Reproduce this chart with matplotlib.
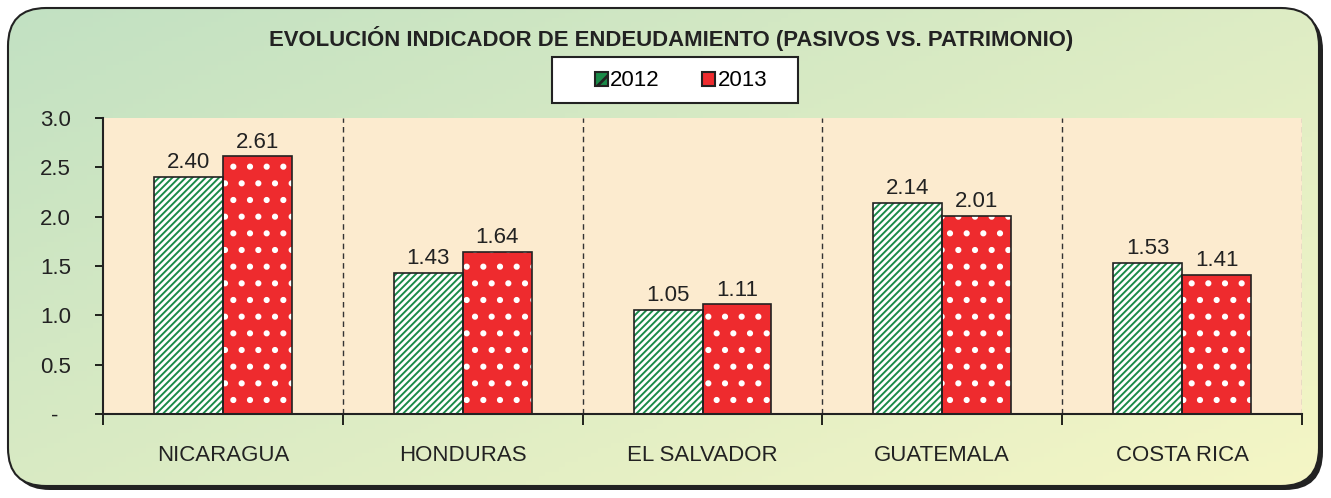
import matplotlib
matplotlib.use("Agg")
import matplotlib.pyplot as plt
import numpy as np
from matplotlib.patches import FancyBboxPatch, Rectangle

categories = ["NICARAGUA", "HONDURAS", "EL SALVADOR", "GUATEMALA", "COSTA RICA"]
series_names = ["2012", "2013"]
values_2012 = [2.40, 1.43, 1.05, 2.14, 1.53]
values_2013 = [2.61, 1.64, 1.11, 2.01, 1.41]
yticks = [0.0, 0.5, 1.0, 1.5, 2.0, 2.5, 3.0]
ytick_labels = ["-  ", "0.5", "1.0", "1.5", "2.0", "2.5", "3.0"]
title = "EVOLUCIÓN INDICADOR DE ENDEUDAMIENTO (PASIVOS VS. PATRIMONIO)"

plt.rcParams['font.family'] = ['Liberation Sans', 'DejaVu Sans']
plt.rcParams['hatch.linewidth'] = 2.0

W, H = 1331, 498
fig = plt.figure(figsize=(W / 100, H / 100), dpi=100)

# background axes with gradient inside rounded box
bg = fig.add_axes([0, 0, 1, 1])
bg.set_xlim(0, W)
bg.set_ylim(H, 0)
bg.axis("off")
shadow = FancyBboxPatch((12, 12), W - 20, H - 20, boxstyle="round,pad=0,rounding_size=38",
                        facecolor="#222222", edgecolor="none", zorder=0)
bg.add_patch(shadow)
box = FancyBboxPatch((8, 8), W - 20, H - 20, boxstyle="round,pad=0,rounding_size=38",
                     facecolor="none", edgecolor="#222222", linewidth=1.5, zorder=3)
xx, yy = np.meshgrid(np.linspace(0, 1, 200), np.linspace(0, 1, 100))
t = np.clip(0.55 * xx + 0.45 * yy, 0, 1)
c0 = np.array([0xc2, 0xe1, 0xc2]) / 255
c1 = np.array([0xf5, 0xf6, 0xc6]) / 255
img = c0[None, None, :] * (1 - t[..., None]) + c1[None, None, :] * t[..., None]
im = bg.imshow(img, extent=(8, W - 12, H - 12, 8), aspect="auto", zorder=1)
clip = FancyBboxPatch((8, 8), W - 20, H - 20, boxstyle="round,pad=0,rounding_size=38",
                      facecolor="none", edgecolor="none", transform=bg.transData)
bg.add_patch(clip)
im.set_clip_path(clip)
bg.add_patch(box)
# legend box
bg.add_patch(Rectangle((552, 57), 246, 46, facecolor="white", edgecolor="#222222",
                       linewidth=1.5, zorder=4))

left, right, top, bottom = 103, 1302, 118, 414
ax = fig.add_axes([left / W, 1 - bottom / H, (right - left) / W, (bottom - top) / H])
ax.set_facecolor("#fcebcf")

x = np.arange(len(categories))
bw = 0.2875
green = "#1a8a48"
red = "#ee2b2e"
FS = 16

plt.rcParams['hatch.color'] = 'white'
b1 = ax.bar(x - bw / 2, values_2012, bw, color=green, hatch="/////", edgecolor="white", linewidth=0, zorder=2)
b2 = ax.bar(x + bw / 2, values_2013, bw, color=red, hatch=".", edgecolor="white", linewidth=0, zorder=2)
ax.bar(x - bw / 2, values_2012, bw, facecolor="none", edgecolor="#222222", linewidth=1.2, zorder=3)
ax.bar(x + bw / 2, values_2013, bw, facecolor="none", edgecolor="#222222", linewidth=1.2, zorder=3)

for xi, v in zip(x - bw / 2, values_2012):
    ax.text(xi, v + 0.04, f"{v:.2f}", ha="center", va="bottom", fontsize=FS, color="#222222")
for xi, v in zip(x + bw / 2, values_2013):
    ax.text(xi, v + 0.04, f"{v:.2f}", ha="center", va="bottom", fontsize=FS, color="#222222")

ax.set_xlim(-0.5, len(categories) - 0.5)
ax.set_ylim(0, 3.0)
ax.set_yticks(yticks)
ax.set_yticklabels(ytick_labels, fontsize=FS, color="#222222")
ax.set_xticks(x)
ax.set_xticklabels(categories, fontsize=FS, color="#222222")
ax.tick_params(axis="x", length=0, pad=22)
ax.tick_params(axis="y", length=6, width=1.2, direction="out", pad=17)
ax.set_xticks(np.arange(-0.5, len(categories)), minor=True)
ax.tick_params(axis="x", which="minor", length=8, width=1.2, direction="out")
for s in ["top", "right"]:
    ax.spines[s].set_visible(False)
ax.spines["left"].set_linewidth(1.5)
ax.spines["bottom"].set_linewidth(1.5)
ax.spines["left"].set_color("#222222")
ax.spines["bottom"].set_color("#222222")
for b in np.arange(0.5, len(categories) - 0.5):
    ax.axvline(b, color="#333333", linestyle=(0, (4, 3)), linewidth=1.0, zorder=1)
ax.axvline(len(categories) - 0.5, color="#999999", linestyle=(0, (4, 3)), linewidth=1.0, zorder=1)

fig.text(671 / W, 1 - 38 / H, title, ha="center", va="center", fontsize=15.9, fontweight="bold", color="#222222")

leg = fig.legend([b1, b2], series_names, loc="center", bbox_to_anchor=(681 / W, 1 - 81 / H),
                 ncol=2, fontsize=FS, frameon=False,
                 handlelength=0.6, handleheight=0.6, handletextpad=0.1, columnspacing=1.9,
                 borderpad=0.0, borderaxespad=0)
leg.set_zorder(10)
for h in leg.legend_handles:
    h.set_edgecolor("#222222")
    h.set_linewidth(1.5)
leg.legend_handles[0].set_hatch("//")
leg.legend_handles[1].set_hatch(None)

fig.savefig("out.png", dpi=100)
